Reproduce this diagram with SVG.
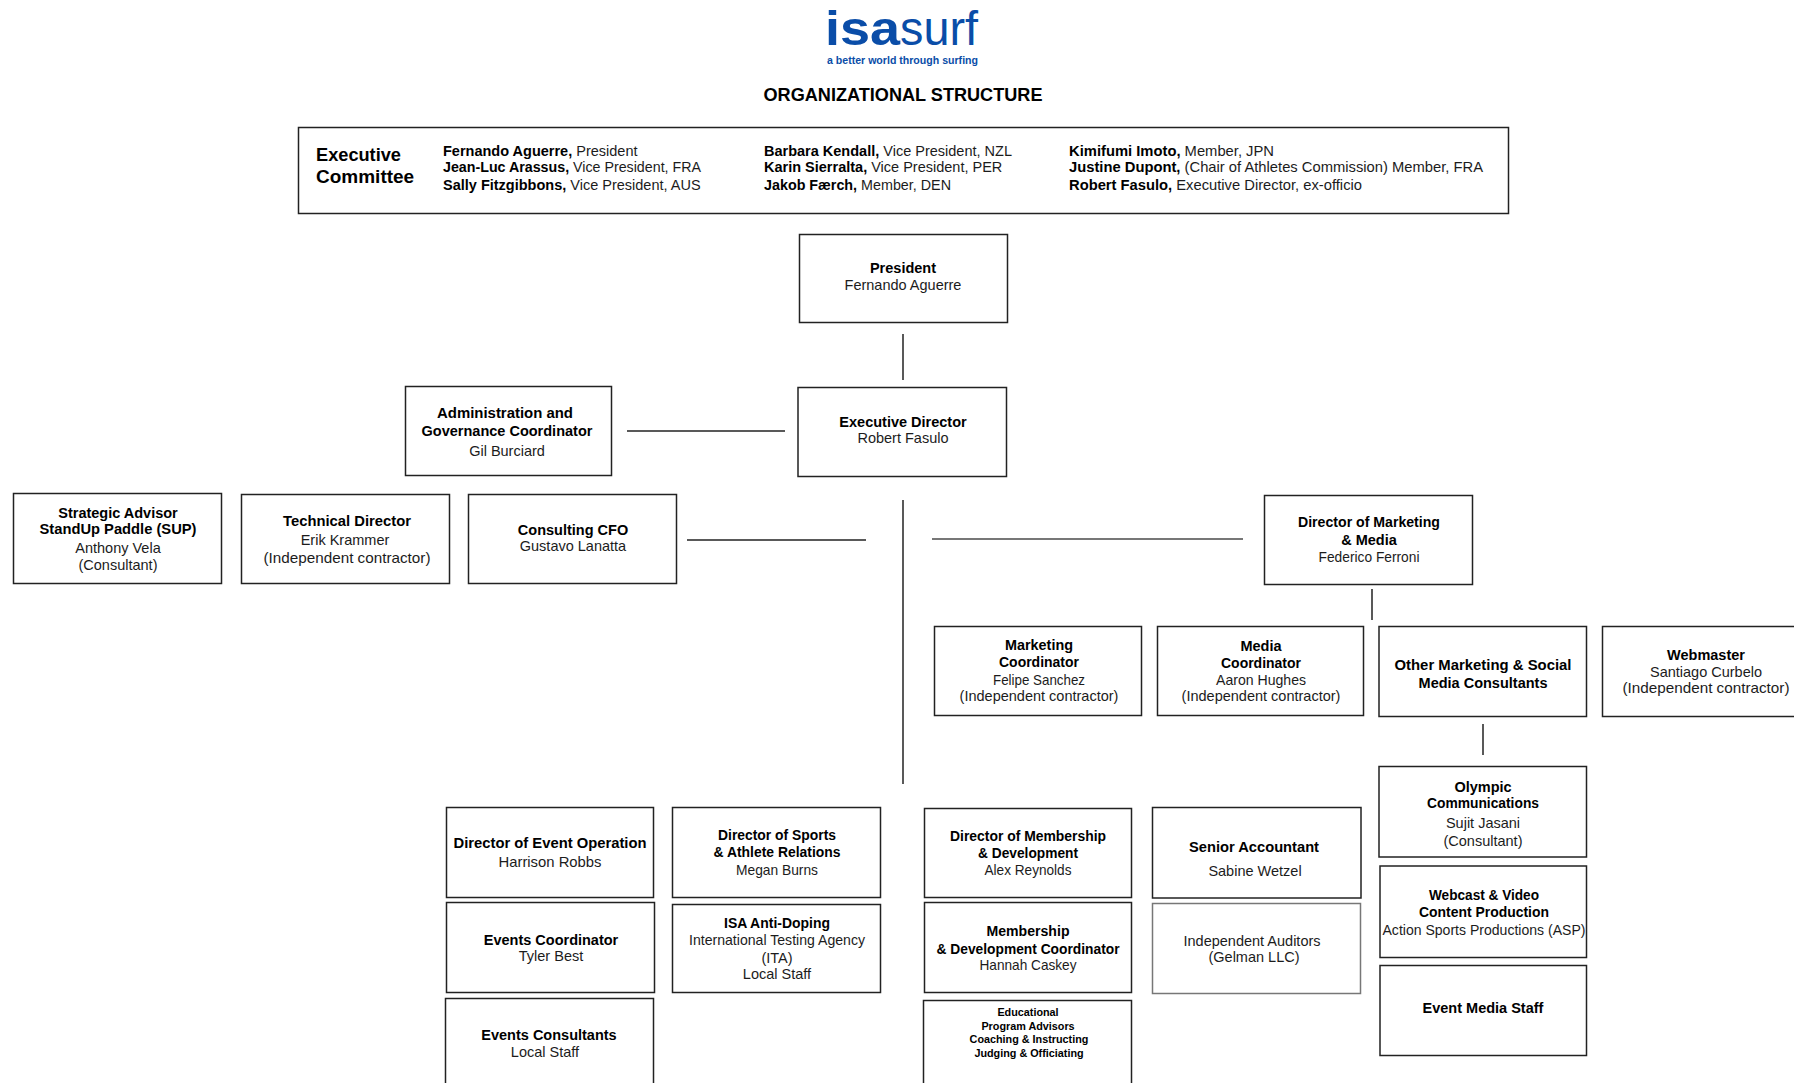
<svg xmlns="http://www.w3.org/2000/svg" width="1794" height="1083" viewBox="0 0 1794 1083">
<style>
text{font-family:"Liberation Sans",Arial,sans-serif;font-size:14.5px;fill:#1c1c1c}
.c{text-anchor:middle}
.b{font-weight:700;fill:#000}
.box{fill:#fff;stroke:#222;stroke-width:1.5}
.ln{stroke:#222;stroke-width:1.5;fill:none}
.e{font-size:10.8px}
</style>
<rect width="1794" height="1083" fill="#fff"/>
<g id="logo">
<text x="825" y="45" style="font-size:48px;font-weight:700;fill:#0a4da8" textLength="75" lengthAdjust="spacingAndGlyphs">isa</text>
<text x="900" y="45" style="font-size:48px;fill:#0a4da8" textLength="78" lengthAdjust="spacingAndGlyphs">surf</text>
<text x="827" y="64" style="font-size:11.5px;font-weight:700;fill:#0a4da8" textLength="151" lengthAdjust="spacingAndGlyphs">a better world through surfing</text>
</g>
<text class="c b" x="903" y="101" style="font-size:18px" textLength="279" lengthAdjust="spacingAndGlyphs">ORGANIZATIONAL STRUCTURE</text>
<g id="executive-committee">
<rect class="box" x="298.500" y="127.500" width="1210" height="86"/>
<text class="b" x="316" y="161" style="font-size:19px" textLength="85" lengthAdjust="spacingAndGlyphs">Executive</text>
<text class="b" x="316" y="183" style="font-size:19px">Committee</text>
<text x="443" y="156"><tspan class="b">Fernando Aguerre,</tspan> President</text>
<text x="443" y="172" textLength="258" lengthAdjust="spacingAndGlyphs"><tspan class="b">Jean-Luc Arassus,</tspan> Vice President, FRA</text>
<text x="443" y="190"><tspan class="b">Sally Fitzgibbons,</tspan> Vice President, AUS</text>
<text x="764" y="156"><tspan class="b">Barbara Kendall,</tspan> Vice President, NZL</text>
<text x="764" y="172"><tspan class="b">Karin Sierralta,</tspan> Vice President, PER</text>
<text x="764" y="190" textLength="187" lengthAdjust="spacingAndGlyphs"><tspan class="b">Jakob Færch,</tspan> Member, DEN</text>
<text x="1069" y="156" textLength="205" lengthAdjust="spacingAndGlyphs"><tspan class="b">Kimifumi Imoto,</tspan> Member, JPN</text>
<text x="1069" y="172" textLength="414" lengthAdjust="spacingAndGlyphs"><tspan class="b">Justine Dupont,</tspan> (Chair of Athletes Commission) Member, FRA</text>
<text x="1069" y="190" textLength="293" lengthAdjust="spacingAndGlyphs"><tspan class="b">Robert Fasulo,</tspan> Executive Director, ex-officio</text>
</g>
<g id="connectors">
<line class="ln" x1="903" y1="334" x2="903" y2="380"/>
<line class="ln" x1="627" y1="431" x2="785" y2="431"/>
<line class="ln" x1="687" y1="540" x2="866" y2="540"/>
<line class="ln" x1="903" y1="500" x2="903" y2="784"/>
<line x1="932" y1="539" x2="1243" y2="539" stroke="#777" stroke-width="2"/>
<line class="ln" x1="1372" y1="589" x2="1372" y2="620"/>
<line class="ln" x1="1483" y1="724" x2="1483" y2="755"/>
</g>
<g id="president"><rect class="box" x="799.500" y="234.500" width="208" height="88"/>
<text class="c b" x="903" y="273">President</text><text class="c" x="903" y="290">Fernando Aguerre</text></g>
<g id="executive-director"><rect class="box" x="798" y="387.500" width="208.500" height="89"/>
<text class="c b" x="903" y="427">Executive Director</text><text class="c" x="903" y="443">Robert Fasulo</text></g>
<g id="admin"><rect class="box" x="405.500" y="386.500" width="206" height="89"/>
<text class="c b" x="505" y="418" textLength="136" lengthAdjust="spacingAndGlyphs">Administration and</text><text class="c b" x="507" y="436">Governance Coordinator</text><text class="c" x="507" y="456">Gil Burciard</text></g>
<g id="strategic-advisor"><rect class="box" x="13.500" y="493.500" width="208" height="90"/>
<text class="c b" x="118" y="518">Strategic Advisor</text><text class="c b" x="118" y="534" textLength="157" lengthAdjust="spacingAndGlyphs">StandUp Paddle (SUP)</text><text class="c" x="118" y="553">Anthony Vela</text><text class="c" x="118" y="570">(Consultant)</text></g>
<g id="technical-director"><rect class="box" x="241.500" y="494.500" width="208" height="89"/>
<text class="c b" x="347" y="526" textLength="128" lengthAdjust="spacingAndGlyphs">Technical Director</text><text class="c" x="345" y="545">Erik Krammer</text><text class="c" x="347" y="563" textLength="167" lengthAdjust="spacingAndGlyphs">(Independent contractor)</text></g>
<g id="consulting-cfo"><rect class="box" x="468.500" y="494.500" width="208" height="89"/>
<text class="c b" x="573" y="535">Consulting CFO</text><text class="c" x="573" y="551">Gustavo Lanatta</text></g>
<g id="director-marketing"><rect class="box" x="1264.500" y="495.500" width="208" height="89"/>
<text class="c b" x="1369" y="527" textLength="142" lengthAdjust="spacingAndGlyphs">Director of Marketing</text><text class="c b" x="1369" y="545">&amp; Media</text><text class="c" x="1369" y="562" textLength="101" lengthAdjust="spacingAndGlyphs">Federico Ferroni</text></g>
<g id="marketing-coordinator"><rect class="box" x="934.500" y="626.500" width="207" height="89"/>
<text class="c b" x="1039" y="650" textLength="68" lengthAdjust="spacingAndGlyphs">Marketing</text><text class="c b" x="1039" y="667" textLength="80" lengthAdjust="spacingAndGlyphs">Coordinator</text><text class="c" x="1039" y="685" textLength="92" lengthAdjust="spacingAndGlyphs">Felipe Sanchez</text><text class="c" x="1039" y="701">(Independent contractor)</text></g>
<g id="media-coordinator"><rect class="box" x="1157.500" y="626.500" width="206" height="89"/>
<text class="c b" x="1261" y="651">Media</text><text class="c b" x="1261" y="668" textLength="80" lengthAdjust="spacingAndGlyphs">Coordinator</text><text class="c" x="1261" y="685" textLength="90" lengthAdjust="spacingAndGlyphs">Aaron Hughes</text><text class="c" x="1261" y="701">(Independent contractor)</text></g>
<g id="other-marketing"><rect class="box" x="1379" y="626.500" width="207.500" height="90"/>
<text class="c b" x="1483" y="670" textLength="177" lengthAdjust="spacingAndGlyphs">Other Marketing &amp; Social</text><text class="c b" x="1483" y="688">Media Consultants</text></g>
<g id="webmaster"><rect class="box" x="1602.500" y="626.500" width="200" height="90"/>
<text class="c b" x="1706" y="660">Webmaster</text><text class="c" x="1706" y="677">Santiago Curbelo</text><text class="c" x="1706" y="693" textLength="167" lengthAdjust="spacingAndGlyphs">(Independent contractor)</text></g>
<g id="olympic"><rect class="box" x="1379" y="766.500" width="207.500" height="90.500"/>
<text class="c b" x="1483" y="792">Olympic</text><text class="c b" x="1483" y="808" textLength="112" lengthAdjust="spacingAndGlyphs">Communications</text><text class="c" x="1483" y="828">Sujit Jasani</text><text class="c" x="1483" y="846">(Consultant)</text></g>
<g id="webcast"><rect class="box" x="1380" y="866" width="206.500" height="91.500"/>
<text class="c b" x="1484" y="900" textLength="110" lengthAdjust="spacingAndGlyphs">Webcast &amp; Video</text><text class="c b" x="1484" y="917" textLength="130" lengthAdjust="spacingAndGlyphs">Content Production</text><text class="c" x="1484" y="935" textLength="203" lengthAdjust="spacingAndGlyphs">Action Sports Productions (ASP)</text></g>
<g id="event-media"><rect class="box" x="1380" y="965.500" width="206.500" height="90"/>
<text class="c b" x="1483" y="1013">Event Media Staff</text></g>
<g id="senior-accountant"><rect class="box" x="1152.500" y="807.500" width="208.500" height="90.500"/>
<text class="c b" x="1254" y="852" textLength="130" lengthAdjust="spacingAndGlyphs">Senior Accountant</text><text class="c" x="1255" y="876">Sabine Wetzel</text></g>
<g id="auditors"><rect x="1152.500" y="903.500" width="208" height="90" fill="#fff" stroke="#777" stroke-width="1.5"/>
<text class="c" x="1252" y="946">Independent Auditors</text><text class="c" x="1254" y="962">(Gelman LLC)</text></g>
<g id="director-events"><rect class="box" x="446.500" y="807.500" width="207" height="90"/>
<text class="c b" x="550" y="848" textLength="193" lengthAdjust="spacingAndGlyphs">Director of Event Operation</text><text class="c" x="550" y="867" textLength="103" lengthAdjust="spacingAndGlyphs">Harrison Robbs</text></g>
<g id="events-coordinator"><rect class="box" x="446.500" y="902.500" width="208" height="90"/>
<text class="c b" x="551" y="945">Events Coordinator</text><text class="c" x="551" y="961">Tyler Best</text></g>
<g id="events-consultants"><rect class="box" x="445.500" y="998.500" width="208" height="96"/>
<text class="c b" x="549" y="1040">Events Consultants</text><text class="c" x="545" y="1057">Local Staff</text></g>
<g id="director-sports"><rect class="box" x="672.500" y="807.500" width="208" height="90"/>
<text class="c b" x="777" y="840" textLength="118" lengthAdjust="spacingAndGlyphs">Director of Sports</text><text class="c b" x="777" y="857" textLength="127" lengthAdjust="spacingAndGlyphs">&amp; Athlete Relations</text><text class="c" x="777" y="875" textLength="82" lengthAdjust="spacingAndGlyphs">Megan Burns</text></g>
<g id="anti-doping"><rect class="box" x="672.500" y="904.500" width="208" height="88"/>
<text class="c b" x="777" y="928" textLength="106" lengthAdjust="spacingAndGlyphs">ISA Anti-Doping</text><text class="c" x="777" y="945" textLength="176" lengthAdjust="spacingAndGlyphs">International Testing Agency</text><text class="c" x="777" y="963">(ITA)</text><text class="c" x="777" y="979">Local Staff</text></g>
<g id="director-membership"><rect class="box" x="924.500" y="808.500" width="207" height="89"/>
<text class="c b" x="1028" y="841" textLength="156" lengthAdjust="spacingAndGlyphs">Director of Membership</text><text class="c b" x="1028" y="858" textLength="100" lengthAdjust="spacingAndGlyphs">&amp; Development</text><text class="c" x="1028" y="875" textLength="87" lengthAdjust="spacingAndGlyphs">Alex Reynolds</text></g>
<g id="membership-coordinator"><rect class="box" x="924.500" y="902.500" width="207" height="90"/>
<text class="c b" x="1028" y="936" textLength="83" lengthAdjust="spacingAndGlyphs">Membership</text><text class="c b" x="1028" y="954" textLength="183" lengthAdjust="spacingAndGlyphs">&amp; Development Coordinator</text><text class="c" x="1028" y="970" textLength="97" lengthAdjust="spacingAndGlyphs">Hannah Caskey</text></g>
<g id="educational"><rect class="box" x="923.500" y="1000.500" width="208" height="94"/>
<text class="c b e" x="1028" y="1016">Educational</text><text class="c b e" x="1028" y="1030">Program Advisors</text><text class="c b e" x="1029" y="1043">Coaching &amp; Instructing</text><text class="c b e" x="1029" y="1057">Judging &amp; Officiating</text></g>
</svg>
